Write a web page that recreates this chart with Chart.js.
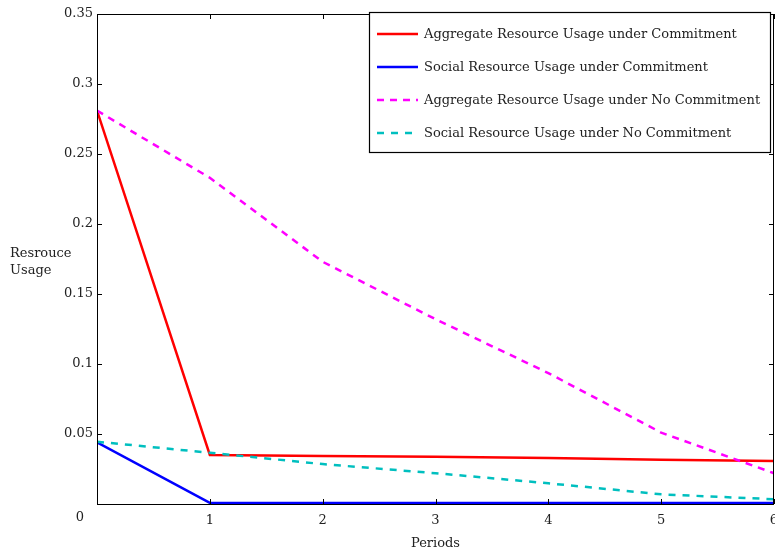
<!DOCTYPE html>
<html>
<head>
<meta charset="utf-8">
<script src="https://cdn.jsdelivr.net/npm/chart.js@4"></script>
<style>
  html, body { margin: 0; padding: 0; background: #fff; }
  #wrap { width: 775px; height: 548px; }
</style>
</head>
<body>
<div id="wrap"><canvas id="usageChart" width="775" height="548"></canvas></div>
<script>
const periods = [0, 1, 2, 3, 4, 5, 6];
const aggCommit = [0.281, 0.035, 0.0343, 0.0337, 0.0328, 0.0316, 0.0307];
const socialCommit = [0.044, 0.0008, 0.0008, 0.0008, 0.0008, 0.0008, 0.0008];
const aggNoCommit = [0.281, 0.233, 0.173, 0.132, 0.0935, 0.051, 0.022];
const socialNoCommit = [0.0445, 0.0366, 0.0285, 0.022, 0.0148, 0.0069, 0.0034];

const seriesNames = [
  "Aggregate Resource Usage under Commitment",
  "Social Resource Usage under Commitment",
  "Aggregate Resource Usage under No Commitment",
  "Social Resource Usage under No Commitment"
];
const yTicks = [0.05, 0.1, 0.15, 0.2, 0.25, 0.3, 0.35];
const yTitle = ["Resrouce", "Usage"];
const xTitle = "Periods";

const FONT = '"DejaVu Serif", serif';
const TEXT = "#222";

function points(ys) {
  return periods.map((p, i) => ({ x: p, y: ys[i] }));
}

// inward ticks on all four sides, box frame, origin label and axis titles
const framePlugin = {
  id: "frame",
  afterDatasetsDraw(chart) {
    const { ctx, chartArea: a, scales } = chart;
    ctx.save();
    ctx.strokeStyle = "#000";
    ctx.lineWidth = 1;
    ctx.strokeRect(a.left + 0.5, a.top + 0.5, a.right - a.left - 1, a.bottom - a.top);
    const len = 5;
    ctx.beginPath();
    periods.forEach(p => {
      const x = Math.round(scales.x.getPixelForValue(p)) + 0.5;
      ctx.moveTo(x, a.bottom); ctx.lineTo(x, a.bottom - len);
      ctx.moveTo(x, a.top); ctx.lineTo(x, a.top + len);
    });
    yTicks.forEach(v => {
      const y = Math.round(scales.y.getPixelForValue(v)) + 0.5;
      ctx.moveTo(a.left, y); ctx.lineTo(a.left + len, y);
      ctx.moveTo(a.right, y); ctx.lineTo(a.right - len, y);
    });
    ctx.stroke();

    ctx.fillStyle = TEXT;
    ctx.font = "13px " + FONT;
    ctx.textBaseline = "middle";
    ctx.textAlign = "center";
    ctx.fillText("0", a.left - 17, a.bottom + 14);
    ctx.fillText(xTitle, (a.left + a.right) / 2, a.bottom + 40);
    ctx.textAlign = "left";
    yTitle.forEach((t, i) => ctx.fillText(t, 10, 254 + i * 17));
    ctx.restore();
  },
  afterDraw(chart) {
    // legend box in the upper right corner
    const { ctx, chartArea: a } = chart;
    const x0 = 369, y0 = 12, w = a.right - x0 - 4, h = 140;
    ctx.save();
    ctx.fillStyle = "#fff";
    ctx.fillRect(x0, y0, w, h);
    ctx.strokeStyle = "#000";
    ctx.lineWidth = 1.2;
    ctx.strokeRect(x0 + 0.5, y0 + 0.5, w, h);
    ctx.font = "13px " + FONT;
    ctx.textBaseline = "middle";
    ctx.textAlign = "left";
    chart.data.datasets.forEach((ds, i) => {
      const y = y0 + 22 + i * 33;
      ctx.strokeStyle = ds.borderColor;
      ctx.lineWidth = 2.5;
      ctx.setLineDash(ds.borderDash || []);
      ctx.beginPath();
      ctx.moveTo(x0 + 8, y);
      ctx.lineTo(x0 + 49, y);
      ctx.stroke();
      ctx.setLineDash([]);
      ctx.fillStyle = TEXT;
      ctx.fillText(ds.label, x0 + 55, y + 1);
    });
    ctx.restore();
  }
};

const ctx = document.getElementById("usageChart").getContext("2d");
new Chart(ctx, {
  type: "line",
  data: {
    datasets: [
      { label: seriesNames[0], data: points(aggCommit), borderColor: "#ff0000", order: 3 },
      { label: seriesNames[1], data: points(socialCommit), borderColor: "#0000ff", order: 2 },
      { label: seriesNames[2], data: points(aggNoCommit), borderColor: "#ff00ff", borderDash: [7, 6], order: 1 },
      { label: seriesNames[3], data: points(socialNoCommit), borderColor: "#00bfbf", borderDash: [7, 7], order: 0 }
    ].map(d => Object.assign({ borderWidth: 2.5, pointRadius: 0, tension: 0, fill: false }, d))
  },
  options: {
    responsive: false,
    animation: false,
    layout: { padding: { top: 14, right: 1, left: 0, bottom: 0 } },
    plugins: {
      legend: { display: false },
      tooltip: { enabled: false }
    },
    scales: {
      x: {
        type: "linear",
        min: 0,
        max: 6,
        grid: { display: false, drawTicks: false },
        border: { display: false },
        ticks: {
          stepSize: 1,
          padding: 9,
          color: TEXT,
          font: { family: FONT, size: 13 },
          maxRotation: 0,
          callback: v => (v === 0 ? "" : v)
        },
        afterFit(scale) {
          scale.height = 44;
          scale.paddingLeft = 0;
          scale.paddingRight = 0;
        }
      },
      y: {
        min: 0,
        max: 0.35,
        grid: { display: false, drawTicks: false },
        border: { display: false },
        afterBuildTicks(scale) {
          scale.ticks = yTicks.map(v => ({ value: v }));
        },
        ticks: {
          padding: 4,
          color: TEXT,
          font: { family: FONT, size: 13 },
          callback: v => String(+v.toFixed(2))
        },
        afterFit(scale) {
          scale.width = 97;
          scale.paddingTop = 0;
          scale.paddingBottom = 0;
        }
      }
    }
  },
  plugins: [framePlugin]
});
</script>
</body>
</html>
